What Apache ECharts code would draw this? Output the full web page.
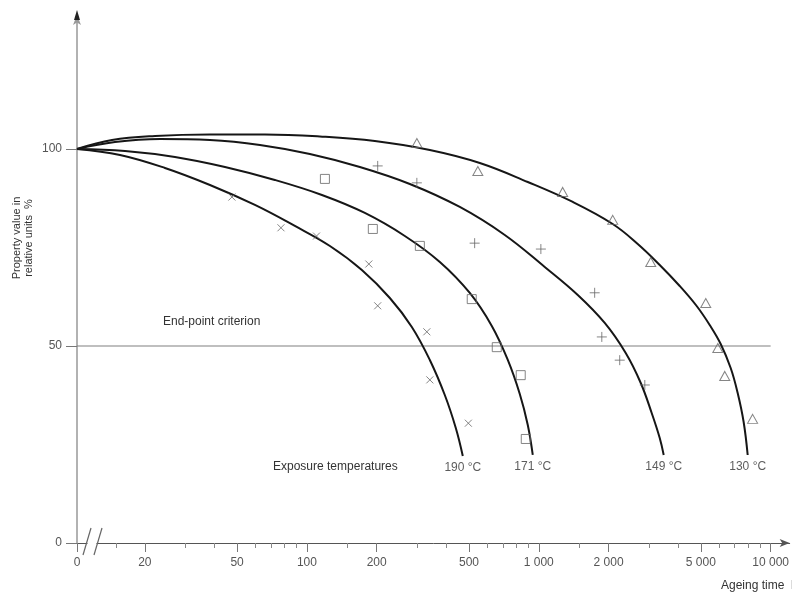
<!DOCTYPE html>
<html>
<head>
<meta charset="utf-8">
<script src="https://cdn.jsdelivr.net/npm/echarts@6/dist/echarts.min.js"></script>
<style>
  html, body { margin: 0; padding: 0; background: #fff; }
  #chart { width: 792px; height: 593px; }
</style>
</head>
<body>
<div id="chart"></div>
<script>
// ---- axis extents / ticks ----
const X_ORIGIN = 10.2;      // position on the broken log axis that stands for time 0
const X_MAX = 12080;
const Y_MAX = 134;
const X_MAJOR_TICKS = [X_ORIGIN, 20, 50, 100, 200, 500, 1000, 2000, 5000, 10000];
const X_TICK_LABELS = ['0', '20', '50', '100', '200', '500', '1 000', '2 000', '5 000', '10 000'];
const X_MINOR_TICKS = [15, 30, 40, 60, 70, 80, 90, 150, 300, 400, 600, 700, 800, 900, 1500, 3000, 4000, 6000, 7000, 8000, 9000];
const Y_TICKS = [0, 50, 100];
const END_POINT = 50;
const END_POINT_X_END = 10000;

// ---- fitted curves [ageing time h, property %] ----
const curve190 = [[X_ORIGIN,100],[15.63,98.48],[24.43,95.18],[38.19,90.86],[59.69,85.79],[88.76,80.46],[125.7,75.38],[172.6,69.29],[227.9,62.18],[283.5,54.82],[339.0,46.45],[393.3,37.56],[438.7,29.19],[470.3,22.08]];
const curve171 = [[X_ORIGIN,100],[16.43,99.49],[26.98,97.97],[44.33,95.43],[72.78,92.13],[116.1,88.32],[177.8,83.76],[264.5,77.92],[374.4,71.32],[504.1,63.45],[627.3,55.08],[735.2,46.45],[828.2,37.82],[896.6,29.95],[942.1,22.34]];
const curve149 = [[X_ORIGIN,100],[14.87,101.78],[23.25,102.54],[38.19,102.28],[62.73,101.02],[103.0,98.73],[169.2,95.43],[277.9,91.12],[456.5,85.28],[713.6,78.17],[1061,70.05],[1473,62.94],[1925,55.84],[2371,48.22],[2753,40.61],[3069,32.99],[3324,26.65],[3458,22.34]];
const curve130 = [[X_ORIGIN,100],[14.44,102.28],[22.13,103.30],[38.19,103.68],[65.92,103.68],[113.8,103.17],[196.4,102.03],[339.0,99.75],[556.8,96.45],[896.6,91.62],[1402,86.55],[2084,80.96],[2672,75.89],[3324,70.56],[4054,65.23],[4797,60.15],[5459,55.33],[6089,50.51],[6724,44.42],[7208,38.07],[7648,30.71],[7961,22.34]];

// ---- measured points ----
const points190 = [[47.5,87.8],[77.3,80.0],[110,77.9],[185,70.8],[202,60.2],[329,53.6],[339,41.4],[497,30.4]];
const points171 = [[119.6,92.4],[192.5,79.7],[307,75.4],[514,61.9],[659,49.7],[836,42.6],[879,26.4]];
const points149 = [[202,95.7],[298,91.4],[529,76.1],[1021,74.6],[1742,63.5],[1870,52.3],[2234,46.4],[2866,40.1]];
const points130 = [[298,101.5],[546,94.4],[1268,89.1],[2084,82.0],[3040,71.3],[5250,60.9],[5917,49.5],[6340,42.4],[8360,31.5]];

const TEMP_LABELS = ['190 °C', '171 °C', '149 °C', '130 °C'];
const CURVES = [curve190, curve171, curve149, curve130];
const POINT_SETS = [points190, points171, points149, points130];
const SYMBOLS = [
  'path://M0,0L10,10M10,0L0,10',
  'rect',
  'path://M5,0L5,10M0,5L10,5',
  'triangle'
];
const SYMBOL_SIZES = [[7,7], [9,9], [10,10], [10,9]];

const FONT = "'Liberation Sans', Arial, sans-serif";
const chart = echarts.init(document.getElementById('chart'), null, { renderer: 'canvas' });

const lg = v => Math.log10(v);
function fmtX(v) {
  for (let i = 0; i < X_MAJOR_TICKS.length; i++) {
    if (Math.abs(lg(X_MAJOR_TICKS[i]) - v) < 1e-6) return X_TICK_LABELS[i];
  }
  return '';
}

const series = [];
CURVES.forEach((c, i) => {
  series.push({
    type: 'line', xAxisIndex: 0, yAxisIndex: 0,
    data: c, smooth: 0.4, showSymbol: false, silent: true,
    lineStyle: { color: '#161616', width: 2 }, z: 3
  });
});
POINT_SETS.forEach((p, i) => {
  series.push({
    type: 'scatter', xAxisIndex: 0, yAxisIndex: 0,
    data: p, symbol: SYMBOLS[i], symbolSize: SYMBOL_SIZES[i], silent: true,
    itemStyle: { color: 'rgba(0,0,0,0)', borderColor: '#666', borderWidth: 1 }, z: 4
  });
});
// end-point criterion line
series.push({
  type: 'line', xAxisIndex: 0, yAxisIndex: 0,
  data: [[X_ORIGIN, END_POINT], [END_POINT_X_END, END_POINT]],
  showSymbol: false, silent: true,
  lineStyle: { color: '#808080', width: 1.2 }, z: 2
});
// temperature labels under the curve ends
series.push({
  type: 'scatter', xAxisIndex: 0, yAxisIndex: 0, silent: true,
  symbolSize: 0,
  data: CURVES.map((c, i) => ({ value: c[c.length - 1], name: TEMP_LABELS[i] })),
  label: { show: true, position: 'bottom', distance: 6, formatter: '{b}',
           color: '#333', fontSize: 12, fontFamily: FONT },
  z: 5
});

const option = {
  animation: false,
  backgroundColor: '#fff',
  grid: { left: 77, right: 2, top: 15, bottom: 50, containLabel: false },
  xAxis: [
    { type: 'log', logBase: 10, min: X_ORIGIN, max: X_MAX, position: 'bottom',
      axisLine: { show: true, lineStyle: { color: '#555', width: 1 }, symbol: ['none', 'arrow'], symbolSize: [6, 10] },
      axisTick: { show: false }, axisLabel: { show: false }, splitLine: { show: false } },
    { type: 'value', min: lg(X_ORIGIN), max: lg(X_MAX), position: 'bottom',
      axisLine: { show: false },
      axisTick: { show: true, customValues: X_MAJOR_TICKS.map(lg), length: 9, lineStyle: { color: '#777', width: 1 } },
      axisLabel: { show: true, customValues: X_MAJOR_TICKS.map(lg), formatter: fmtX, margin: 14,
                   color: '#555', fontSize: 12, fontFamily: FONT, showMinLabel: true, showMaxLabel: true },
      splitLine: { show: false } },
    { type: 'value', min: lg(X_ORIGIN), max: lg(X_MAX), position: 'bottom',
      axisLine: { show: false },
      axisTick: { show: true, customValues: X_MINOR_TICKS.map(lg), length: 5, lineStyle: { color: '#888', width: 1 } },
      axisLabel: { show: false }, splitLine: { show: false } }
  ],
  yAxis: [
    { type: 'value', min: 0, max: Y_MAX, position: 'left',
      axisLine: { show: true, lineStyle: { color: '#999', width: 1.5 }, symbol: ['none', 'arrow'], symbolSize: [6, 10] },
      axisTick: { show: true, customValues: Y_TICKS, length: 11, lineStyle: { color: '#777', width: 1 } },
      axisLabel: { show: true, customValues: Y_TICKS, margin: 15, color: '#555', fontSize: 12, fontFamily: FONT },
      splitLine: { show: false } }
  ],
  series: series
};
chart.setOption(option);

// decorations: axis break, free texts
const o = chart.convertToPixel({ gridIndex: 0 }, [X_ORIGIN, 0]);
const ox = o[0], oy = o[1];
const yEnd = chart.convertToPixel({ gridIndex: 0 }, [X_ORIGIN, Y_MAX]);
chart.setOption({
  graphic: [
    { type: 'rect', z: 100, shape: { x: ox + 10.5, y: oy - 3, width: 9, height: 6 }, style: { fill: '#fff' } },
    { type: 'line', z: 101, shape: { x1: ox + 6, y1: oy + 12, x2: ox + 14, y2: oy - 15 }, style: { stroke: '#666', lineWidth: 1.2 } },
    { type: 'line', z: 101, shape: { x1: ox + 17, y1: oy + 12, x2: ox + 25, y2: oy - 15 }, style: { stroke: '#666', lineWidth: 1.2 } },
    { type: 'polygon', z: 101, shape: { points: [[yEnd[0] - 3, yEnd[1] + 5], [yEnd[0], yEnd[1] - 5], [yEnd[0] + 3, yEnd[1] + 5]] }, style: { fill: '#222' } },
    { type: 'text', z: 50, x: 163, y: 322,
      style: { text: 'End-point criterion', fill: '#333', font: '12px ' + FONT, textAlign: 'left', textVerticalAlign: 'middle' } },
    { type: 'text', z: 50, x: 273, y: 467,
      style: { text: 'Exposure temperatures', fill: '#333', font: '12px ' + FONT, textAlign: 'left', textVerticalAlign: 'middle' } },
    { type: 'text', z: 50, x: 721, y: 586,
      style: { text: 'Ageing time  h', fill: '#333', font: '12px ' + FONT, textAlign: 'left', textVerticalAlign: 'middle' } },
    { type: 'text', z: 50, x: 23, y: 238, rotation: Math.PI / 2,
      style: { text: 'Property value in\nrelative units  %', fill: '#333', font: '11px ' + FONT,
               textAlign: 'center', textVerticalAlign: 'middle', lineHeight: 12 } }
  ]
});
</script>
</body>
</html>
